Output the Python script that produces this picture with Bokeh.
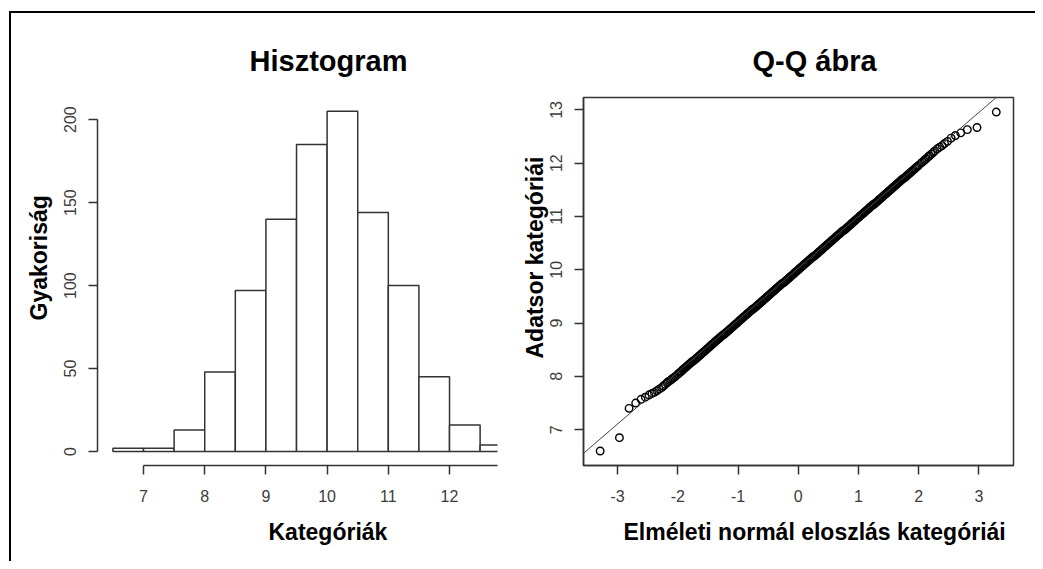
from bokeh.plotting import figure
from bokeh.layouts import row, column
from bokeh.models import Spacer, Title, FixedTicker, Range1d, Slope, CustomJSTickFormatter
from bokeh.embed import file_html
from bokeh.resources import INLINE

# ---------------- data ----------------
bin_left = [6.5, 7.0, 7.5, 8.0, 8.5, 9.0, 9.5, 10.0, 10.5, 11.0, 11.5, 12.0, 12.5]
bin_right = [7.0, 7.5, 8.0, 8.5, 9.0, 9.5, 10.0, 10.5, 11.0, 11.5, 12.0, 12.5, 13.0]
counts = [2, 2, 13, 48, 97, 140, 185, 205, 144, 100, 45, 16, 4]

hist_x_ticks = [7, 8, 9, 10, 11, 12]
hist_y_ticks = [0, 50, 100, 150, 200]
qq_x_ticks = [-3, -2, -1, 0, 1, 2, 3]
qq_y_ticks = [7, 8, 9, 10, 11, 12, 13]

hist_title = "Hisztogram"
hist_xlabel = "Kategóriák"
hist_ylabel = "Gyakoriság"
qq_title = "Q-Q ábra"
qq_xlabel = "Elméleti normál eloszlás kategóriái"
qq_ylabel = "Adatsor kategóriái"

# Q-Q points: lower tail, dense band, upper tail
qq_theoretical = [
    -3.29, -2.97, -2.81, -2.70, -2.61, -2.54, -2.48, -2.43, -2.39, -2.35,
    -2.31, -2.27, -2.24, -2.21, -2.18, -2.16, -2.13, -2.11, -2.09, -2.06, -2.04,
    -2.00, -1.98, -1.96, -1.94, -1.92, -1.90, -1.88, -1.86, -1.84, -1.82,
    -1.80, -1.78, -1.76, -1.74, -1.72, -1.70, -1.68, -1.66, -1.64, -1.62,
    -1.60, -1.58, -1.56, -1.54, -1.52, -1.50, -1.48, -1.46, -1.44, -1.42,
    -1.40, -1.38, -1.36, -1.34, -1.32, -1.30, -1.28, -1.26, -1.24, -1.22,
    -1.20, -1.18, -1.16, -1.14, -1.12, -1.10, -1.08, -1.06, -1.04, -1.02,
    -1.00, -0.98, -0.96, -0.94, -0.92, -0.90, -0.88, -0.86, -0.84, -0.82,
    -0.80, -0.78, -0.76, -0.74, -0.72, -0.70, -0.68, -0.66, -0.64, -0.62,
    -0.60, -0.58, -0.56, -0.54, -0.52, -0.50, -0.48, -0.46, -0.44, -0.42,
    -0.40, -0.38, -0.36, -0.34, -0.32, -0.30, -0.28, -0.26, -0.24, -0.22,
    -0.20, -0.18, -0.16, -0.14, -0.12, -0.10, -0.08, -0.06, -0.04, -0.02,
    0.00, 0.02, 0.04, 0.06, 0.08, 0.10, 0.12, 0.14, 0.16, 0.18,
    0.20, 0.22, 0.24, 0.26, 0.28, 0.30, 0.32, 0.34, 0.36, 0.38,
    0.40, 0.42, 0.44, 0.46, 0.48, 0.50, 0.52, 0.54, 0.56, 0.58,
    0.60, 0.62, 0.64, 0.66, 0.68, 0.70, 0.72, 0.74, 0.76, 0.78,
    0.80, 0.82, 0.84, 0.86, 0.88, 0.90, 0.92, 0.94, 0.96, 0.98,
    1.00, 1.02, 1.04, 1.06, 1.08, 1.10, 1.12, 1.14, 1.16, 1.18,
    1.20, 1.22, 1.24, 1.26, 1.28, 1.30, 1.32, 1.34, 1.36, 1.38,
    1.40, 1.42, 1.44, 1.46, 1.48, 1.50, 1.52, 1.54, 1.56, 1.58,
    1.60, 1.62, 1.64, 1.66, 1.68, 1.70, 1.72, 1.74, 1.76, 1.78,
    1.80, 1.82, 1.84, 1.86, 1.88, 1.90, 1.92, 1.94, 1.96, 1.98,
    2.00,
    2.04, 2.06, 2.09, 2.11, 2.13, 2.16, 2.18, 2.21, 2.24, 2.27,
    2.31, 2.35, 2.39, 2.43, 2.48, 2.54, 2.61, 2.70, 2.81, 2.97, 3.29,
]
qq_sample = [
    6.60, 6.85, 7.40, 7.50, 7.57, 7.61, 7.65, 7.68, 7.70, 7.73,
    7.76, 7.79, 7.82, 7.85, 7.88, 7.90, 7.92, 7.94, 7.96, 7.98, 8.00,
    8.04, 8.06, 8.08, 8.10, 8.12, 8.14, 8.16, 8.18, 8.20, 8.22,
    8.24, 8.26, 8.28, 8.29, 8.31, 8.33, 8.35, 8.37, 8.39, 8.41,
    8.43, 8.45, 8.47, 8.49, 8.51, 8.53, 8.55, 8.57, 8.59, 8.61,
    8.63, 8.65, 8.67, 8.69, 8.71, 8.73, 8.75, 8.77, 8.78, 8.80,
    8.82, 8.84, 8.86, 8.88, 8.90, 8.92, 8.94, 8.96, 8.98, 9.00,
    9.02, 9.04, 9.06, 9.08, 9.10, 9.12, 9.14, 9.16, 9.18, 9.20,
    9.22, 9.24, 9.26, 9.27, 9.29, 9.31, 9.33, 9.35, 9.37, 9.39,
    9.41, 9.43, 9.45, 9.47, 9.49, 9.51, 9.53, 9.55, 9.57, 9.59,
    9.61, 9.63, 9.65, 9.67, 9.69, 9.71, 9.73, 9.75, 9.76, 9.78,
    9.80, 9.82, 9.84, 9.86, 9.88, 9.90, 9.92, 9.94, 9.96, 9.98,
    10.00, 10.02, 10.04, 10.06, 10.08, 10.10, 10.12, 10.14, 10.16, 10.18,
    10.20, 10.22, 10.24, 10.25, 10.27, 10.29, 10.31, 10.33, 10.35, 10.37,
    10.39, 10.41, 10.43, 10.45, 10.47, 10.49, 10.51, 10.53, 10.55, 10.57,
    10.59, 10.61, 10.63, 10.65, 10.67, 10.69, 10.71, 10.73, 10.74, 10.76,
    10.78, 10.80, 10.82, 10.84, 10.86, 10.88, 10.90, 10.92, 10.94, 10.96,
    10.98, 11.00, 11.02, 11.04, 11.06, 11.08, 11.10, 11.12, 11.14, 11.16,
    11.18, 11.20, 11.22, 11.23, 11.25, 11.27, 11.29, 11.31, 11.33, 11.35,
    11.37, 11.39, 11.41, 11.43, 11.45, 11.47, 11.49, 11.51, 11.53, 11.55,
    11.57, 11.59, 11.61, 11.63, 11.65, 11.67, 11.69, 11.71, 11.72, 11.74,
    11.76, 11.78, 11.80, 11.82, 11.84, 11.86, 11.88, 11.90, 11.92, 11.94,
    11.96,
    12.00, 12.02, 12.05, 12.07, 12.09, 12.12, 12.14, 12.17, 12.20, 12.23,
    12.27, 12.30, 12.33, 12.37, 12.41, 12.47, 12.52, 12.57, 12.63, 12.67, 12.96,
]
qq_line_intercept = 10.03
qq_line_slope = 0.974

# ---------------- style ----------------
FONT = "Liberation Sans"
LINE = "#333333"
TICKLAB = "#3c3c3c"


def style_axis(ax, ticks, standoff, bounds=None):
    ax.ticker = FixedTicker(ticks=ticks)
    ax.formatter = CustomJSTickFormatter(code="return tick.toString();")
    ax.minor_tick_line_color = None
    ax.major_tick_in = 0
    ax.major_tick_out = 9
    ax.major_tick_line_color = LINE
    ax.major_tick_line_width = 1.5
    ax.axis_line_color = LINE
    ax.axis_line_width = 1.5
    ax.major_label_text_font = FONT
    ax.major_label_text_font_size = "16px"
    ax.major_label_text_color = TICKLAB
    ax.major_label_standoff = standoff
    if bounds is not None:
        ax.bounds = bounds


def make_title(text, offset, standoff):
    return Title(text=text, align="left", offset=offset, standoff=standoff,
                 text_font=FONT, text_font_size="23px", text_font_style="bold",
                 text_color="black")


def base_figure(fw, fh, bl, br, bt, bb, xr, yr, title, title_offset):
    p = figure(frame_width=fw, frame_height=fh,
               min_border_left=bl, min_border_right=br,
               min_border_top=bt, min_border_bottom=bb,
               x_range=Range1d(*xr), y_range=Range1d(*yr),
               output_backend="svg", toolbar_location=None, title=title)
    p.title.align = "left"
    p.title.offset = title_offset
    p.title.text_font = FONT
    p.title.text_font_size = "29px"
    p.title.text_font_style = "bold"
    p.title.text_color = "black"
    p.title.standoff = 42
    p.xgrid.visible = False
    p.ygrid.visible = False
    p.background_fill_color = "white"
    p.border_fill_color = "white"
    return p


# ---------------- histogram ----------------
p1 = base_figure(400, 368, 86, 3, 84, 96, (6.248, 12.784), (-8.4, 213.3),
                 hist_title, 152)
p1.outline_line_color = None
p1.quad(left=bin_left, right=bin_right, bottom=0, top=counts,
        fill_color="white", line_color=LINE, line_width=1.5)
style_axis(p1.xaxis[0], hist_x_ticks, 15, bounds=(7, 12.784))
style_axis(p1.yaxis[0], hist_y_ticks, 12, bounds=(0, 200))
p1.yaxis[0].major_label_orientation = "vertical"
p1.add_layout(make_title(hist_xlabel, 171, 24), "below")
p1.add_layout(make_title(hist_ylabel, 145, 20), "left")

# ---------------- Q-Q plot ----------------
p2 = base_figure(430, 368, 83, 22, 84, 96, (-3.567, 3.576), (6.328, 13.233),
                 qq_title, 169)
p2.outline_line_color = LINE
p2.outline_line_width = 1.5
style_axis(p2.xaxis[0], qq_x_ticks, 15)
style_axis(p2.yaxis[0], qq_y_ticks, 12)
p2.yaxis[0].major_label_orientation = "vertical"
p2.add_layout(Slope(gradient=qq_line_slope, y_intercept=qq_line_intercept,
                    line_color="#444444", line_width=1))
p2.scatter(x=qq_theoretical, y=qq_sample, marker="circle", size=7.5,
           fill_color=None, line_color="black", line_width=1.4)
p2.add_layout(make_title(qq_xlabel, 40, 24), "below")
p2.add_layout(make_title(qq_ylabel, 107, 0), "left")

# ---------------- frame lines + layout ----------------
top_line = row(Spacer(width=9, height=2),
               Spacer(width=1026, height=2, styles={"background-color": "black"}))
main = row(Spacer(width=9, height=548),
           Spacer(width=2, height=548, styles={"background-color": "black"}),
           p1, p2)
layout = column(Spacer(width=1035, height=11), top_line, main)

open("out.html", "w").write(file_html(layout, INLINE))
